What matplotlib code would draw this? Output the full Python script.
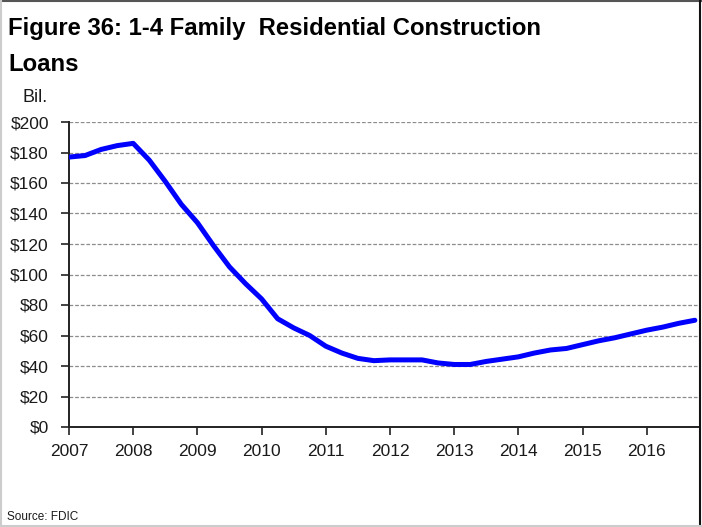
import matplotlib
matplotlib.use("Agg")
import matplotlib.pyplot as plt
from matplotlib.lines import Line2D
from matplotlib.ticker import FuncFormatter

# quarterly, Q1 2007 .. Q4 2016 (billions $)
years = [2007 + q / 4 for q in range(40)]
loans = [177, 178, 182, 184.5,
         186, 175, 161, 146,
         134, 119, 105, 94,
         84, 71, 65, 60,
         53, 48.5, 45, 43.5,
         44, 44, 44, 42,
         41, 41, 43, 44.5,
         46, 48.5, 50.5, 51.5,
         54, 56.5, 58.5, 61,
         63.5, 65.5, 68, 70]
year_ticks = list(range(2007, 2017))
y_ticks = list(range(0, 201, 20))

plt.rcParams['font.family'] = ['Liberation Sans', 'DejaVu Sans']

fig = plt.figure(figsize=(7.02, 5.27), dpi=100)
ax = fig.add_axes([69 / 702, 100 / 527, 631 / 702, 305 / 527])

ax.plot(years, loans, color='#0000ff', lw=3.6, solid_capstyle='round', zorder=3)

ax.set_xlim(2007, 2016.83)
ax.set_ylim(0, 200)
ax.set_xticks(year_ticks)
ax.set_yticks(y_ticks)
ax.yaxis.set_major_formatter(FuncFormatter(lambda v, p: f"${v:.0f}"))
ax.grid(axis='y', color='#8c8c8c', ls=(0, (3, 1.5)), lw=0.9)
ax.tick_params(axis='both', direction='out', length=5.5, width=1.2,
               color='#222222', labelsize=12.5, labelcolor='#1a1a1a')
ax.tick_params(axis='y', pad=9)
ax.tick_params(axis='x', pad=7)
for s in ['top', 'right']:
    ax.spines[s].set_visible(False)
for s in ['left', 'bottom']:
    ax.spines[s].set_color('#222222')
    ax.spines[s].set_linewidth(1.4)

fig.text(8 / 702, 1 - 35 / 527, "Figure 36: 1-4 Family  Residential Construction",
         fontsize=17.2, fontweight='bold', color='black', va='baseline')
fig.text(8 / 702, 1 - 71 / 527, "Loans", fontsize=17.2, fontweight='bold',
         color='black', va='baseline')
fig.text(22 / 702, 1 - 102 / 527, "Bil.", fontsize=13, color='#1a1a1a', va='baseline')
fig.text(7 / 702, 1 - 520 / 527, "Source: FDIC", fontsize=8.5, color='#1a1a1a', va='baseline')

# figure border
fig.add_artist(Line2D([0, 1], [0.998, 0.998], transform=fig.transFigure, color='#555555', lw=1.5))
fig.add_artist(Line2D([0.997, 0.997], [0, 1], transform=fig.transFigure, color='#111111', lw=1.5))
fig.add_artist(Line2D([0.002, 0.002], [0, 1], transform=fig.transFigure, color='#cccccc', lw=1.5))
fig.add_artist(Line2D([0, 1], [0.002, 0.002], transform=fig.transFigure, color='#cccccc', lw=1.5))

fig.savefig("out.png", dpi=100)
